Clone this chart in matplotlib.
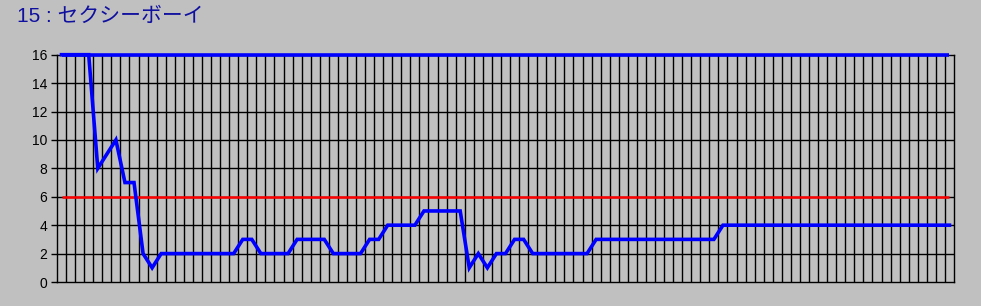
import matplotlib
matplotlib.use("Agg")
import matplotlib.pyplot as plt
import numpy as np

plt.rcParams['font.family'] = ['Noto Sans CJK JP', 'DejaVu Sans']

title = "15 : セクシーボーイ"
ranks = [16, 16, 16, 16, 8, 9, 10, 7, 7, 2, 1,
         2, 2, 2, 2, 2, 2, 2, 2, 2,
         3, 3,
         2, 2, 2, 2,
         3, 3, 3, 3,
         2, 2, 2, 2,
         3, 3,
         4, 4, 4, 4,
         5, 5, 5, 5, 5,
         1, 2, 1, 2, 2, 3, 3,
         2, 2, 2, 2, 2, 2, 2,
         3, 3, 3, 3, 3, 3, 3, 3, 3, 3, 3, 3, 3, 3,
         4, 4, 4, 4, 4, 4, 4, 4, 4, 4, 4, 4, 4, 4, 4, 4, 4, 4, 4, 4, 4, 4, 4, 4, 4, 4]
top_level = 16
ref_level = 6
yticks = [0, 2, 4, 6, 8, 10, 12, 14, 16]

n = len(ranks)
x = np.arange(n)

W, H = 981, 306
fig = plt.figure(figsize=(W / 100, H / 100), dpi=100)
fig.patch.set_facecolor('#c0c0c0')
ax = fig.add_axes([57 / W, (H - 282) / H, (954 - 57) / W, (282 - 54.7) / H])
ax.set_facecolor('#c0c0c0')

# grid
for k in range(1, n):
    ax.axvline(k - 0.5, color='black', lw=1.0, zorder=1)
for yv in yticks[1:-1]:
    ax.axhline(yv, color='black', lw=1.0, zorder=1)

ax.plot(x, [ref_level] * n, color='#ff0000', lw=1.8, zorder=2, solid_capstyle='butt')
ax.plot(x, [top_level] * n, color='#0000ff', lw=2.6, zorder=3, clip_on=False, solid_capstyle='butt')
ax.plot(x, np.minimum(ranks, 16), color='#0000ff', lw=2.6, zorder=3, clip_on=False, solid_joinstyle='miter')

ax.set_xlim(-0.5, n - 0.5)
ax.set_ylim(0, 16)
ax.set_xticks([])
ax.set_yticks(yticks)
ax.set_yticklabels([str(v) for v in yticks], fontsize=10, family=['Liberation Sans', 'DejaVu Sans'])
ax.tick_params(axis='y', length=4, width=1, color='black', pad=3)
for s in ax.spines.values():
    s.set_color('black')
    s.set_linewidth(1.0)

fig.text(17 / W, 1 - 16 / H, title, color='#1010a0', fontsize=15, va='center', ha='left',
         family=['Liberation Sans', 'Noto Sans CJK JP'])

fig.savefig('out.png', dpi=100, facecolor=fig.get_facecolor())
